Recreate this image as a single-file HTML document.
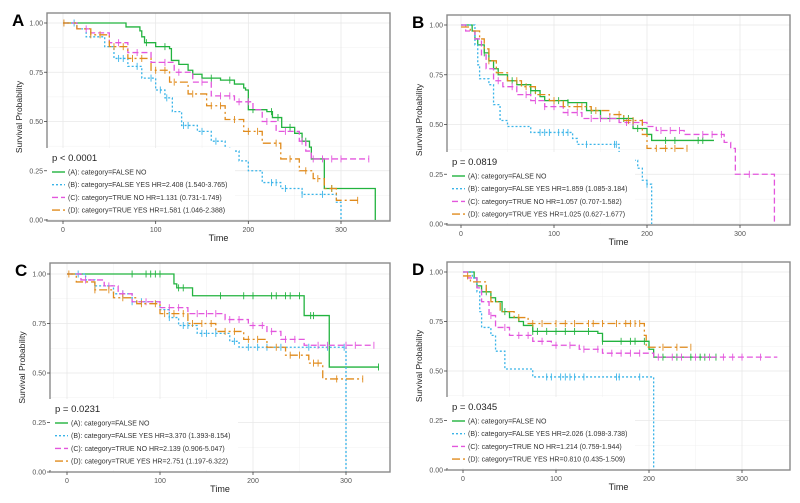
<!DOCTYPE html>
<html><head><meta charset="utf-8"><style>
html,body{margin:0;padding:0;background:#fff;width:800px;height:503px;overflow:hidden}
svg{display:block;font-family:"Liberation Sans",sans-serif}
</style></head><body>
<svg id="fig" width="800" height="503" viewBox="0 0 800 503"></svg>
<script>
// ===== Panel A data =====
const A_green_t=[0,68,83,85,88,100,115,117,125,135,140,150,170,185,195,197,200,220,226,236,250,258,266,268,282,337];
const A_green_s=[1,0.98,0.96,0.93,0.90,0.88,0.87,0.81,0.79,0.76,0.74,0.72,0.71,0.69,0.67,0.66,0.56,0.55,0.52,0.47,0.44,0.40,0.37,0.31,0.16,0];
const A_green_c=[90,110,140,160,180,205,225,232,245,262,290];
const A_blue_t=[0,15,25,45,55,70,85,100,110,118,128,145,160,175,190,200,215,235,258,295,300];
const A_blue_s=[1,0.97,0.93,0.88,0.82,0.78,0.72,0.66,0.62,0.55,0.48,0.45,0.40,0.35,0.30,0.25,0.19,0.16,0.13,0.09,0];
const A_blue_c=[12,60,65,80,95,105,112,130,135,150,165,180,225,230,240,258,280];
const A_pink_t=[0,15,30,50,70,95,120,140,160,185,205,215,230,255,262,268];
const A_pink_s=[1,0.97,0.95,0.90,0.85,0.80,0.75,0.70,0.63,0.60,0.56,0.50,0.45,0.40,0.35,0.31];
const A_pink_c=[25,60,80,110,125,150,170,180,190,200,220,240,258,270,280,290,300,330];
const A_orange_t=[0,15,30,50,70,95,115,135,155,175,195,215,235,255,270,282,295];
const A_orange_s=[1,0.97,0.94,0.88,0.82,0.76,0.70,0.64,0.58,0.51,0.45,0.39,0.31,0.25,0.21,0.16,0.10];
const A_orange_c=[1,30,40,55,65,75,85,100,110,120,140,160,170,185,200,210,230,245,262,275,290,318];
const A_end=[337,300,330,318];
// ===== Panel B data =====
const B_green_t=[0,12,15,18,25,30,35,40,50,60,75,85,90,115,135,150,185,200,205];
const B_green_s=[1,0.97,0.93,0.90,0.86,0.82,0.78,0.75,0.72,0.70,0.67,0.64,0.62,0.61,0.57,0.53,0.48,0.45,0.42];
const B_green_c=[25,55,75,80,105,115,140,175,180,190,220,230,255,260];
const B_blue_t=[0,15,18,20,22,30,35,42,50,75,120,125,170,175,190,195,200,205];
const B_blue_s=[1,0.90,0.80,0.73,0.73,0.70,0.60,0.52,0.49,0.46,0.43,0.40,0.35,0.32,0.28,0.22,0.20,0];
const B_blue_c=[85,90,95,105,110,115,135,165,167,200];
const B_pink_t=[0,5,15,22,27,35,45,60,75,90,110,130,170,200,210,240,283,290,295,337];
const B_pink_s=[1,0.97,0.93,0.85,0.78,0.72,0.69,0.65,0.62,0.59,0.56,0.53,0.51,0.49,0.47,0.45,0.41,0.38,0.25,0];
const B_pink_c=[40,55,70,80,90,100,115,125,140,150,160,178,185,195,215,225,235,260,270,280,310];
const B_orange_t=[0,10,20,25,30,38,50,65,80,95,110,140,160,175,195,200];
const B_orange_s=[0.99,0.97,0.93,0.88,0.82,0.76,0.72,0.69,0.65,0.62,0.59,0.57,0.55,0.52,0.45,0.38];
const B_orange_c=[30,60,70,100,125,130,145,170,180,185,210,220,230,243];
const B_end=[272,205,337,243];
// ===== Panel C data =====
const C_green_t=[0,115,118,135,148,255,282];
const C_green_s=[1,0.95,0.93,0.89,0.89,0.79,0.53];
const C_green_c=[70,85,90,95,100,120,125,165,190,200,220,225,235,240,250,262,265,335];
const C_blue_t=[0,20,30,50,70,100,110,120,140,175,185,190,300];
const C_blue_s=[1,0.97,0.94,0.90,0.86,0.82,0.78,0.74,0.70,0.66,0.63,0.63,0];
const C_blue_c=[12,30,60,70,80,110,125,130,145,150,160,180,195,205,215,230,260,280,298];
const C_pink_t=[0,15,40,55,70,100,130,170,195,215,230,255,265];
const C_pink_s=[1,0.97,0.94,0.90,0.86,0.83,0.80,0.77,0.74,0.71,0.67,0.64,0.64];
const C_pink_c=[20,45,60,85,110,120,140,150,160,175,185,200,210,220,235,245,270,280,300,310,330];
const C_orange_t=[0,10,30,50,75,100,130,160,190,215,235,260,275,279];
const C_orange_s=[1,0.96,0.92,0.88,0.85,0.80,0.75,0.71,0.67,0.63,0.59,0.55,0.47,0.47];
const C_orange_c=[2,30,45,60,80,95,105,115,125,135,145,155,170,180,195,205,225,240,250,265,270,290,318];
const C_end=[335,300,330,318];
// ===== Panel D data =====
const D_green_t=[0,12,15,20,30,35,42,50,60,65,75,145,150,200,205];
const D_green_s=[1,0.97,0.93,0.90,0.87,0.85,0.80,0.77,0.75,0.73,0.70,0.69,0.65,0.61,0.57];
const D_green_c=[25,45,75,80,90,100,110,120,135,150,170,180,185,195,215,230,245,255,260,272];
const D_blue_t=[0,10,15,18,20,30,35,45,75,205];
const D_blue_s=[1,0.97,0.90,0.80,0.72,0.68,0.60,0.51,0.47,0];
const D_blue_c=[90,95,105,110,115,120,130,165,168,190];
const D_pink_t=[0,5,15,20,28,35,50,75,95,125,150,205];
const D_pink_s=[1,0.97,0.92,0.85,0.78,0.72,0.68,0.65,0.63,0.61,0.59,0.57];
const D_pink_c=[30,45,60,70,85,100,115,130,145,160,170,180,190,210,225,235,250,265,280,290,300,320];
const D_orange_t=[0,8,25,30,40,55,70,195,197,200];
const D_orange_s=[0.98,0.95,0.90,0.85,0.80,0.77,0.74,0.68,0.62,0.62];
const D_orange_c=[5,60,75,85,100,110,120,135,140,150,165,175,180,185,190,215,230,245];
const D_end=[272,205,338,245];

const xTicks=[0,100,200,300];
const yTicks=[0,0.25,0.5,0.75,1];
const yTickLabels=["0.00","0.25","0.50","0.75","1.00"];
const legendLabels=["(A): category=FALSE NO","(B): category=FALSE YES","(C): category=TRUE NO","(D): category=TRUE YES"];
const pA=["p < 0.0001"," HR=2.408 (1.540-3.765)"," HR=1.131 (0.731-1.749)"," HR=1.581 (1.046-2.388)"];
const pB=["p = 0.0819"," HR=1.859 (1.085-3.184)"," HR=1.057 (0.707-1.582)"," HR=1.025 (0.627-1.677)"];
const pC=["p = 0.0231"," HR=3.370 (1.393-8.154)"," HR=2.139 (0.906-5.047)"," HR=2.751 (1.197-6.322)"];
const pD=["p = 0.0345"," HR=2.026 (1.098-3.738)"," HR=1.214 (0.759-1.944)"," HR=0.810 (0.435-1.509)"];

const colors=["#22b33f","#3ab4e8","#e356dd","#e08b1c"];
const dashes=["","2,2","6,3","8,3,2,3"];
const svg=document.getElementById('fig');
const NS="http://www.w3.org/2000/svg";
function mk(tag,attrs,parent){const e=document.createElementNS(NS,tag);for(const k in attrs)e.setAttribute(k,attrs[k]);(parent||svg).appendChild(e);return e;}

const panels=[
 {id:'a',letter:'A',fx0:47,fx1:390,fy0:13,fy1:221,x0:63,x300:341,y1:23,y0:220,series:[[A_green_t,A_green_s,A_green_c],[A_blue_t,A_blue_s,A_blue_c],[A_pink_t,A_pink_s,A_pink_c],[A_orange_t,A_orange_s,A_orange_c]],end:A_end,p:pA},
 {id:'b',letter:'B',fx0:447,fx1:790,fy0:15,fy1:225,x0:461,x300:740,y1:25,y0:224,series:[[B_green_t,B_green_s,B_green_c],[B_blue_t,B_blue_s,B_blue_c],[B_pink_t,B_pink_s,B_pink_c],[B_orange_t,B_orange_s,B_orange_c]],end:B_end,p:pB},
 {id:'c',letter:'C',fx0:50,fx1:390,fy0:263,fy1:472,x0:67,x300:346,y1:274,y0:472,series:[[C_green_t,C_green_s,C_green_c],[C_blue_t,C_blue_s,C_blue_c],[C_pink_t,C_pink_s,C_pink_c],[C_orange_t,C_orange_s,C_orange_c]],end:C_end,p:pC},
 {id:'d',letter:'D',fx0:447,fx1:790,fy0:262,fy1:470,x0:463,x300:742,y1:272,y0:470,series:[[D_green_t,D_green_s,D_green_c],[D_blue_t,D_blue_s,D_blue_c],[D_pink_t,D_pink_s,D_pink_c],[D_orange_t,D_orange_s,D_orange_c]],end:D_end,p:pD}
];
const names=['green-a','blue-b','pink-c','orange-d'];

panels.forEach(P=>{
 const g=mk('g',{});
 
 
 const X=t=>P.x0+(P.x300-P.x0)*t/300;
 const Y=s=>P.y0-(P.y0-P.y1)*s;
 const lt=mk('text',{x:P.fx0-35,y:P.fy0+13,'font-size':17,'font-weight':'bold',fill:'#000'},g);lt.textContent=P.letter;
 
 // grid
 const mid=[50,150,250];
 mid.forEach(v=>{const l=mk('line',{x1:X(v),x2:X(v),y1:P.fy0,y2:P.fy1,stroke:'#f0f0f0','stroke-width':0.5},g);});
 [0.125,0.375,0.625,0.875].forEach(v=>{mk('line',{x1:P.fx0,x2:P.fx1,y1:Y(v),y2:Y(v),stroke:'#f0f0f0','stroke-width':0.5},g);});
 xTicks.forEach(v=>{mk('line',{x1:X(v),x2:X(v),y1:P.fy0,y2:P.fy1,stroke:'#e8e8e8','stroke-width':0.8},g);});
 yTicks.forEach(v=>{mk('line',{x1:P.fx0,x2:P.fx1,y1:Y(v),y2:Y(v),stroke:'#e8e8e8','stroke-width':0.8},g);});
 // series
 P.series.forEach((S,i)=>{
  const [T,Sv,C]=S;
  let d='M'+X(T[0])+','+Y(Sv[0]);
  for(let k=1;k<T.length;k++){d+='H'+X(T[k])+'V'+Y(Sv[k]);}
  d+='H'+X(P.end[i]);
  const path=mk('path',{d:d,fill:'none',stroke:colors[i],'stroke-width':1.3,'stroke-dasharray':dashes[i]},g);
  
  
  C.forEach(ct=>{
   let s=Sv[0];for(let k=0;k<T.length;k++){if(T[k]<=ct)s=Sv[k];}
   const m=mk('line',{x1:X(ct),x2:X(ct),y1:Y(s)-3.5,y2:Y(s)+3.5,stroke:colors[i],'stroke-width':0.9},g);
   
   
  });
 });
 // frame
 const fr=mk('rect',{x:P.fx0,y:P.fy0,width:P.fx1-P.fx0,height:P.fy1-P.fy0,fill:'none',stroke:'#8a8a8a','stroke-width':1.4},g);
 
 // legend box
 const lx=P.fx0+5, ly=P.fy1-73;
 mk('rect',{x:P.fx0-2,y:ly,width:190,height:71,fill:'#fff'},g);
 const lg=mk('g',{},g);
 
 const pt=mk('text',{x:lx,y:ly+13,'font-size':9.5,fill:'#222'},lg);pt.textContent=P.p[0];
 
 for(let i=0;i<4;i++){
  const yy=ly+24+i*12.7;
  mk('line',{x1:lx,x2:lx+13,y1:yy,y2:yy,stroke:colors[i],'stroke-width':1.4,'stroke-dasharray':dashes[i]},lg);
  const tx=mk('text',{x:lx+16,y:yy+2.5,'font-size':7,fill:'#333'},lg);
  tx.textContent=legendLabels[i]+(i>0?P.p[i]:'');
  
  
 }
 // axes ticks
 yTicks.forEach((v,i)=>{
  mk('line',{x1:P.fx0-3,x2:P.fx0,y1:Y(v),y2:Y(v),stroke:'#444','stroke-width':0.8},g);
  const t=mk('text',{x:P.fx0-4,y:Y(v)+2.5,'font-size':7,fill:'#555','text-anchor':'end'},g);t.textContent=yTickLabels[i];
  
 });
 xTicks.forEach(v=>{
  mk('line',{x1:X(v),x2:X(v),y1:P.fy1,y2:P.fy1+3,stroke:'#444','stroke-width':0.8},g);
  const t=mk('text',{x:X(v),y:P.fy1+11,'font-size':7,fill:'#555','text-anchor':'middle'},g);t.textContent=String(v);
  
 });
 const xt=mk('text',{x:(P.fx0+P.fx1)/2,y:P.fy1+20,'font-size':9,fill:'#222','text-anchor':'middle'},g);xt.textContent='Time';
 
 const cy=(P.fy0+P.fy1)/2;const ax=P.fx0-25;
 const yt=mk('text',{x:ax,y:cy,'font-size':8.5,fill:'#222','text-anchor':'middle',transform:'rotate(-90 '+ax+' '+cy+')'},g);yt.textContent='Survival Probability';
 
});
</script>
</body></html>
